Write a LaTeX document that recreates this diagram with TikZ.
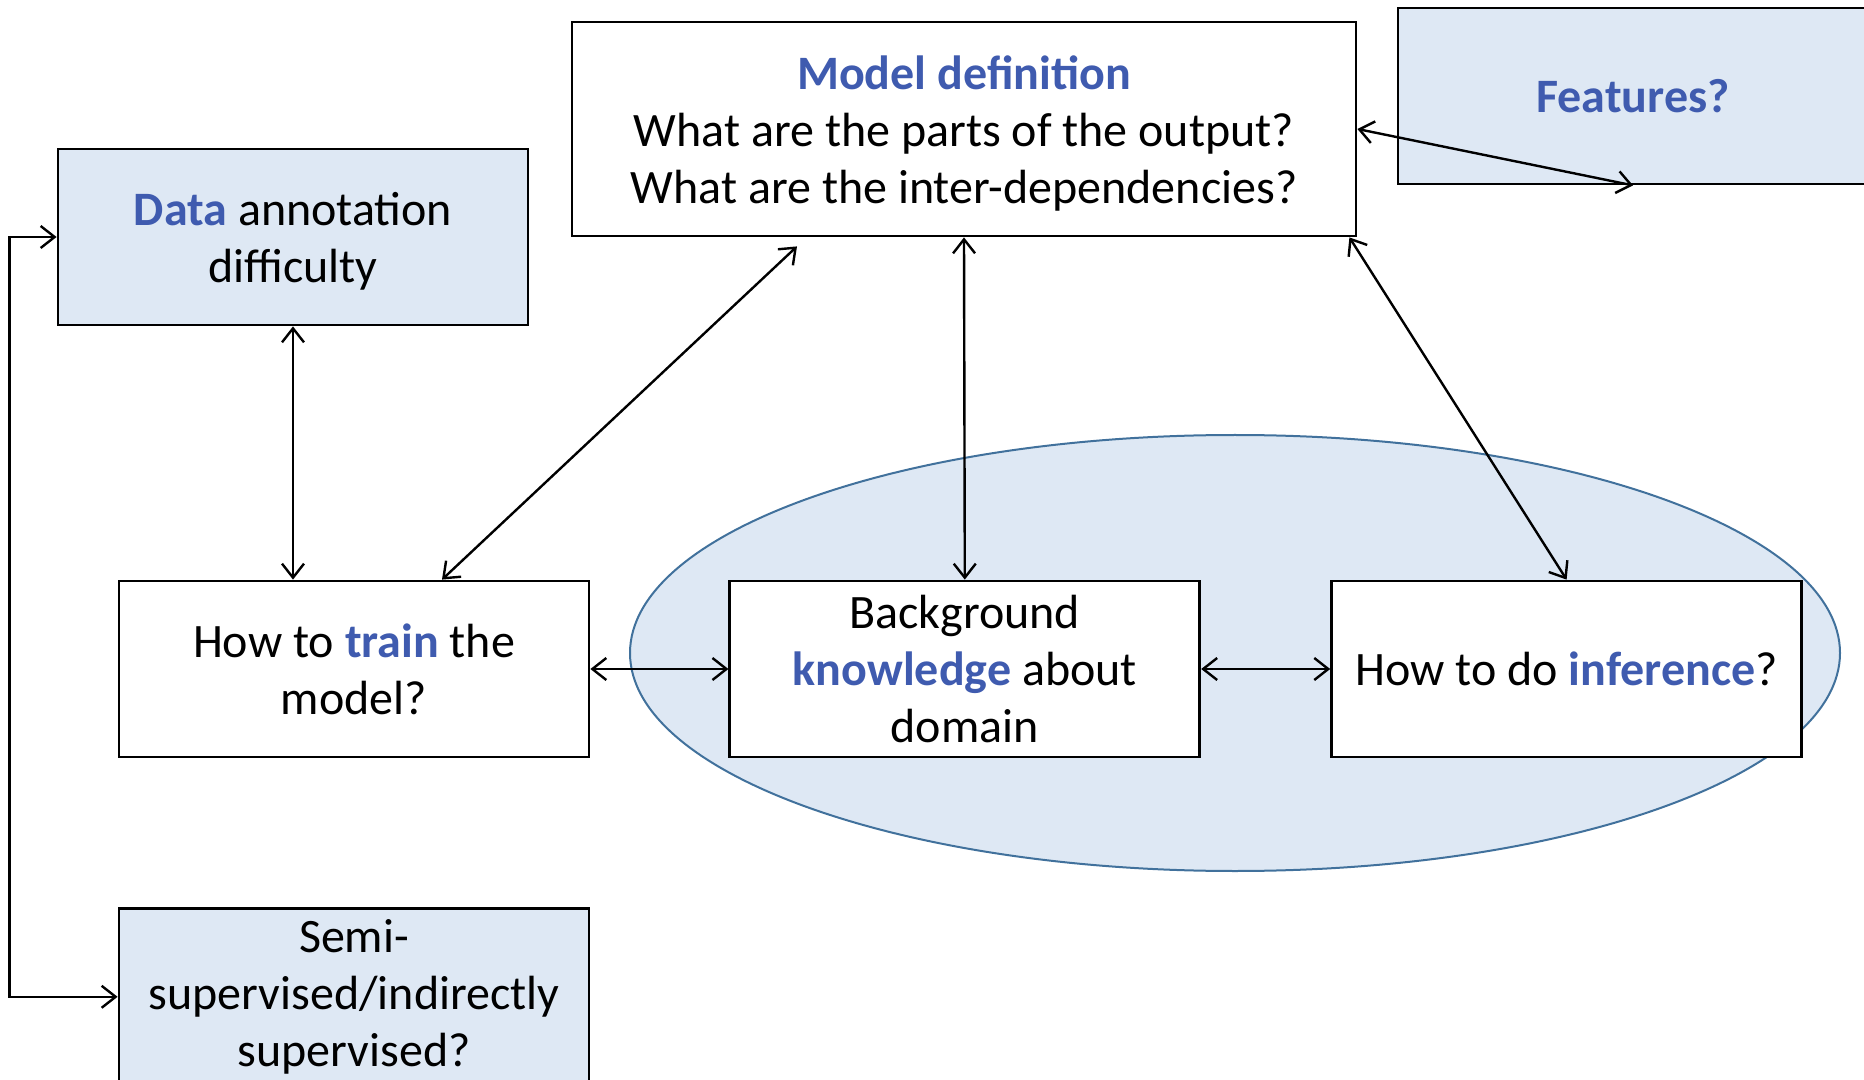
\documentclass[tikz,border=0pt]{standalone}
\usepackage{fontspec}
\setmainfont{Carlito}
\usetikzlibrary{positioning, shapes.geometric, arrows.meta}
\definecolor{boxblue}{HTML}{DEE8F4}
\definecolor{edgeblue}{HTML}{41719C}
\definecolor{textblue}{HTML}{3F5BAF}
\newcommand{\keyw}[1]{\textbf{\color{textblue}#1}}

\begin{document}
\begin{tikzpicture}[
    x=0.5pt, y=-0.5pt,
    >={Straight Barb[length=7pt, width=11pt]}, % Open V arrow heads
    font=\fontsize{24}{28.5}\selectfont,
    % Styles
    box/.style={ % Plain question box
        rectangle,
        draw,
        line width=1.4pt,
        fill=white,
        minimum width=235pt,
        minimum height=88pt,
        align=center,
        inner sep=2pt
    },
    shaded/.style={ % Side issue box
        box,
        fill=boxblue
    },
    arrow/.style={
        <->,
        line width=1.2pt
    }
]
    \useasboundingbox (0,0) rectangle (1864,1080);

    % Domain ellipse behind the lower boxes
    \node[ellipse, draw=edgeblue, line width=1pt, fill=boxblue, inner sep=0pt,
          minimum width=605pt, minimum height=218pt] (domain) at (1235,653) {};

    % Boxes
    \node[box, minimum width=392pt, minimum height=107pt] (model) at (964,129)
        {\rule{0pt}{21pt}\keyw{Model definition}\\What are the parts of the output?\\What are the inter-dependencies?};
    \node[shaded] (features) at (1633,96) {\keyw{Features?}};
    \node[shaded] (data) at (293,237) {\rule{0pt}{21pt}\keyw{Data} annotation\\difficulty};
    \node[box] (train) at (354,669) {How to \keyw{train} the\\model?};
    \node[box, right=69pt of train] (bg) {Background\\\keyw{knowledge} about\\domain};
    \node[box, right=64.5pt of bg] (infer) {How to do \keyw{inference}?};
    \node[shaded, below=74.5pt of train] (semi) {Semi-\\supervised/indirectly\\supervised?};

    % Connections
    \draw[arrow] (data.south) -- (data.south |- train.north);
    \draw[arrow] ([xshift=44pt]train.north) -- ([shift={(-83.5pt,-4.5pt)}]model.south);
    \draw[arrow] (model.south) -- (bg.north);
    \draw[arrow] ([xshift=-4pt]model.south east) -- (infer.north);
    \draw[arrow] (model.east) -- (features.south);
    \draw[arrow] (train) -- (bg);
    \draw[arrow] (bg) -- (infer);
    \draw[arrow] (data.west) -- ++(-47,0) |- (semi.west);
\end{tikzpicture}
\end{document}
